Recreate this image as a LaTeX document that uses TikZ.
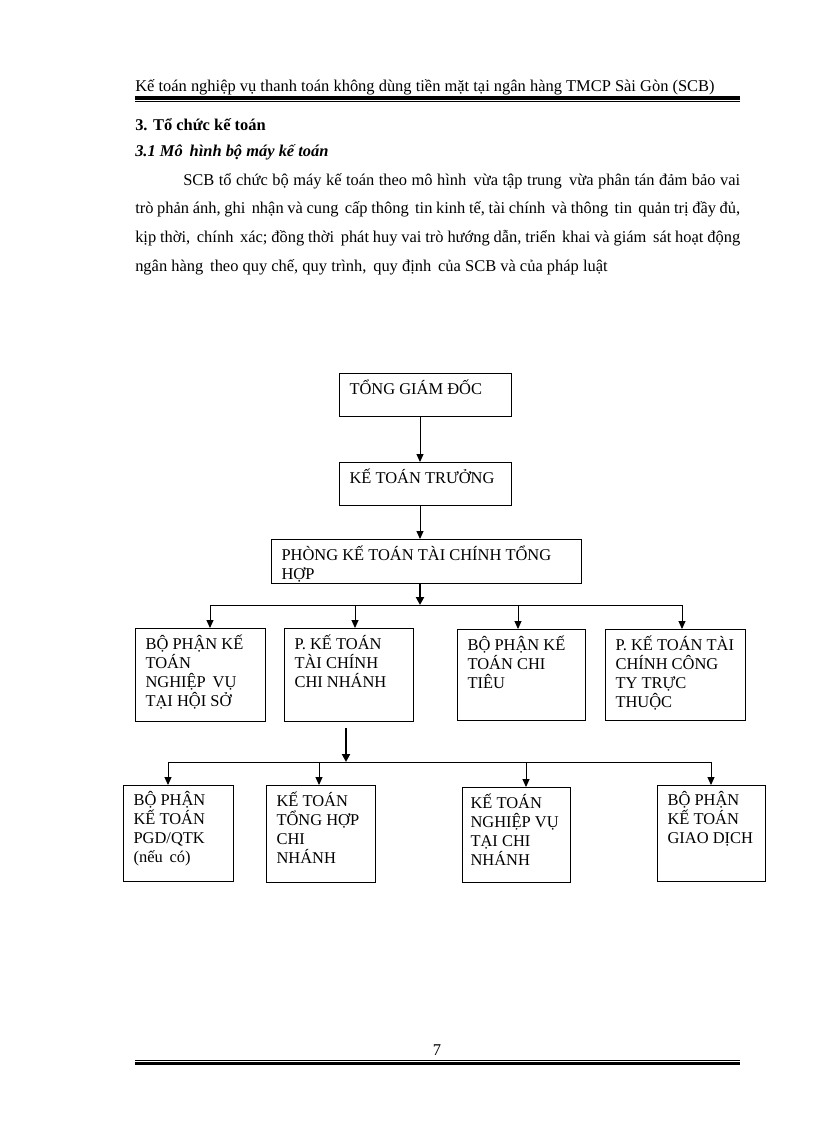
\documentclass[tikz,border=0pt]{standalone}
\usepackage{fontspec}
\setmainfont{Liberation Serif}
\usetikzlibrary{arrows.meta}

\newlength\pxu
\setlength\pxu{0.7295pt}
\newcommand{\orgtext}[3]{\parbox[t][#2\pxu][t]{#1\pxu}{\raggedright #3}}

\tikzset{
  orgbox/.style={draw, line width=0.8pt, anchor=north west, inner xsep=10\pxu, inner ysep=6\pxu,
    font=\fontsize{12}{13.9}\selectfont},
  arr/.style={line width=0.7pt, -{Triangle[length=5.8pt, width=5.1pt]}},
  thickarr/.style={line width=2pt, -{Triangle[length=5.8pt, width=5.8pt]}},
  busline/.style={line width=0.7pt}
}

\begin{document}
\begin{tikzpicture}[x=\pxu, y=-\pxu]
  \useasboundingbox[fill=white] (0,0) rectangle (816,1123);

  % header and footer
  \node[anchor=base west, inner sep=0, font=\fontsize{12}{14}\selectfont] (head) at (135,91)
    {Kế toán nghiệp vụ thanh toán không dùng tiền mặt tại ngân hàng TMCP Sài Gòn (SCB)};
  \draw[line width=2.2pt] (135,98) -- (740,98);
  \draw[line width=0.6pt] (135,101.5) -- (740,101.5);
  \node[anchor=base, inner sep=0, font=\fontsize{12}{14}\selectfont] (page) at (437,1055) {7};
  \draw[line width=0.6pt] (135,1060) -- (740,1060);
  \draw[line width=2.2pt] (135,1063.5) -- (740,1063.5);

  % text
  \node[anchor=base west, inner sep=0, font=\fontsize{12}{14}\selectfont\bfseries] (sec) at (135,130)
    {3. Tổ chức kế toán};
  \node[anchor=base west, inner sep=0, font=\fontsize{12}{14}\selectfont\bfseries\itshape] (subsec) at (135,156)
    {3.1 Mô\, hình bộ máy kế toán};
  \node[anchor=north west, inner sep=0, text width=441.3pt, align=justify,
    font=\fontsize{12}{20.9}\selectfont] (para) at (135,173)
    {\hspace*{35pt}SCB tổ chức bộ máy kế toán theo mô hình\, vừa tập trung\, vừa phân tán đảm bảo vai\linebreak
     trò phản ánh, ghi\, nhận và cung\, cấp thông\, tin kinh tế, tài chính\, và thông\, tin\, quản trị đầy đủ,\linebreak
     kịp thời,\, chính\, xác; đồng thời\, phát huy vai trò hướng dẫn, triển\, khai và giám\, sát hoạt động\linebreak
     ngân hàng\, theo quy chế, quy trình,\, quy định\, của SCB và của pháp luật};

  % chart
  \node[orgbox] (tgd) at (339,373) {\orgtext{152}{31}{TỔNG GIÁM ĐỐC}};
  \node[orgbox] (ktt) at (339,462) {\orgtext{152}{31}{KẾ TOÁN TRƯỞNG}};
  \node[orgbox] (phong) at (271,539) {\orgtext{290}{32}{PHÒNG KẾ TOÁN TÀI CHÍNH TỔNG HỢP}};

  \node[orgbox] (hoiso) at (135,628) {\orgtext{110}{81}{BỘ PHẬN KẾ\\ TOÁN\\ NGHIỆP\, VỤ\\ TẠI HỘI SỞ}};
  \node[orgbox] (chinhanh) at (284,628) {\orgtext{109}{81}{P. KẾ TOÁN\\ TÀI CHÍNH\\ CHI NHÁNH}};
  \node[orgbox] (chitieu) at (457,629) {\orgtext{108}{79}{BỘ PHẬN KẾ\\ TOÁN CHI\\ TIÊU}};
  \node[orgbox] (congty) at (605,629) {\orgtext{120}{79}{P. KẾ TOÁN TÀI\\ CHÍNH CÔNG\\ TY TRỰC\\ THUỘC}};

  \node[orgbox] (pgd) at (123,785) {\orgtext{90}{84}{BỘ PHẬN\\ KẾ TOÁN\\ PGD/QTK\\ (nếu\, có)}};
  \node[orgbox] (tonghop) at (266,785) {\orgtext{89}{85}{KẾ TOÁN\\ TỔNG HỢP\\ CHI\\ NHÁNH}};
  \node[orgbox, inner xsep=8\pxu] (nghiepvu) at (462,787) {\orgtext{92}{83}{KẾ TOÁN\\ NGHIỆP VỤ\\ TẠI CHI\\ NHÁNH}};
  \node[orgbox] (giaodich) at (657,785) {\orgtext{88}{84}{BỘ PHẬN\\ KẾ TOÁN\\ GIAO DỊCH}};

  \coordinate (hub) at (420,605);
  \coordinate (d1) at (210,605);
  \coordinate (d2) at (355,605);
  \coordinate (d3) at (518,605);
  \coordinate (d4) at (682,605);
  \coordinate (hubb) at (346,762);
  \coordinate (e1) at (168,762);
  \coordinate (e2) at (319,762);
  \coordinate (e3) at (526,762);
  \coordinate (e4) at (711,762);

  \draw[arr] (hub |- tgd.south) -- (hub |- ktt.north);
  \draw[arr] (hub |- ktt.south) -- (hub |- phong.north);
  \draw[thickarr] (hub |- phong.south) -- (hub);
  \draw[busline] (d1) -- (d4);
  \draw[arr] (d1) -- (d1 |- hoiso.north);
  \draw[arr] (d2) -- (d2 |- chinhanh.north);
  \draw[arr] (d3) -- (d3 |- chitieu.north);
  \draw[arr] (d4) -- (d4 |- congty.north);

  \draw[thickarr, shorten <=4.4pt] (hubb |- chinhanh.south) -- (hubb);
  \draw[busline] (e1) -- (e4);
  \draw[arr] (e1) -- (e1 |- pgd.north);
  \draw[arr] (e2) -- (e2 |- tonghop.north);
  \draw[arr] (e3) -- (e3 |- nghiepvu.north);
  \draw[arr] (e4) -- (e4 |- giaodich.north);
\end{tikzpicture}
\end{document}
